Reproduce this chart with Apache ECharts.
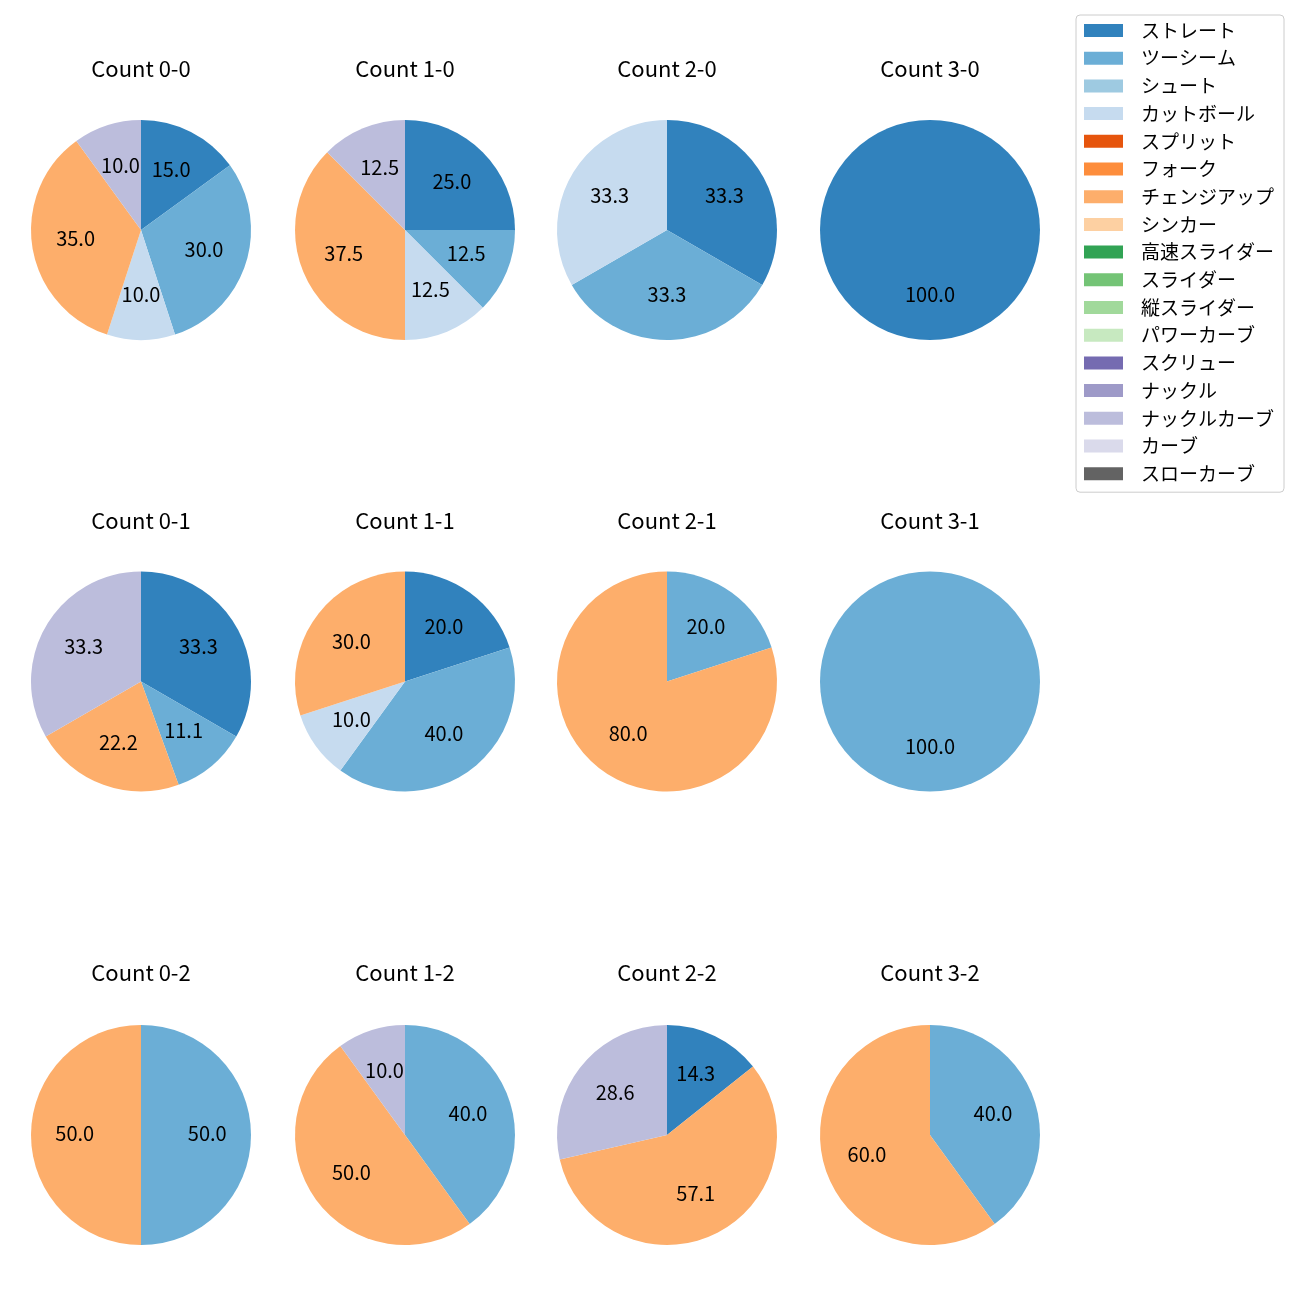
<!DOCTYPE html>
<html>
<head>
<meta charset="utf-8">
<script src="https://cdn.jsdelivr.net/npm/echarts@6/dist/echarts.min.js"></script>
<style>html,body{margin:0;padding:0;background:#fff}#main{width:1300px;height:1300px}</style>
</head>
<body>
<div id="main"></div>
<script>
const categories = ['ストレート','ツーシーム','シュート','カットボール','スプリット','フォーク','チェンジアップ','シンカー','高速スライダー','スライダー','縦スライダー','パワーカーブ','スクリュー','ナックル','ナックルカーブ','カーブ','スローカーブ'];
const colors = ['#3182bd','#6baed6','#9ecae1','#c6dbef','#e6550d','#fd8d3c','#fdae6b','#fdd0a2','#31a354','#74c476','#a1d99b','#c7e9c0','#756bb1','#9e9ac8','#bcbddc','#dadaeb','#636363'];

const pieTitles = ['Count 0-0','Count 1-0','Count 2-0','Count 3-0','Count 0-1','Count 1-1','Count 2-1','Count 3-1','Count 0-2','Count 1-2','Count 2-2','Count 3-2'];

const names00 = ['ストレート','ツーシーム','カットボール','チェンジアップ','ナックルカーブ'];
const values00 = [3,6,2,7,2];
const names10 = ['ストレート','ツーシーム','カットボール','チェンジアップ','ナックルカーブ'];
const values10 = [2,1,1,3,1];
const names20 = ['ストレート','ツーシーム','カットボール'];
const values20 = [1,1,1];
const names30 = ['ストレート'];
const values30 = [1];
const names01 = ['ストレート','ツーシーム','チェンジアップ','ナックルカーブ'];
const values01 = [3,1,2,3];
const names11 = ['ストレート','ツーシーム','カットボール','チェンジアップ'];
const values11 = [2,4,1,3];
const names21 = ['ツーシーム','チェンジアップ'];
const values21 = [1,4];
const names31 = ['ツーシーム'];
const values31 = [1];
const names02 = ['ツーシーム','チェンジアップ'];
const values02 = [1,1];
const names12 = ['ツーシーム','チェンジアップ','ナックルカーブ'];
const values12 = [4,5,1];
const names22 = ['ストレート','チェンジアップ','ナックルカーブ'];
const values22 = [1,4,2];
const names32 = ['ツーシーム','チェンジアップ'];
const values32 = [2,3];

const pieNames = [names00,names10,names20,names30,names01,names11,names21,names31,names02,names12,names22,names32];
const pieValues = [values00,values10,values20,values30,values01,values11,values21,values31,values02,values12,values22,values32];

const colX = [141, 405, 667, 930];
const rowY = [230, 681.5, 1135];
const titleY = [58, 510, 962];
const R = 110;
const FONT = '"Noto Sans CJK JP", "Noto Sans", sans-serif';

function colorOf(n){ return colors[categories.indexOf(n)]; }

const series = [];
// legend holder series (invisible)
series.push({
  type:'pie', radius:[0,0], center:[-100,-100], silent:true,
  label:{show:false}, labelLine:{show:false},
  data: categories.map(n => ({name:n, value:0, itemStyle:{color:colorOf(n)}}))
});
const titles = [];
for (let i = 0; i < 12; i++) {
  const cx = colX[i % 4], cy = rowY[Math.floor(i / 4)];
  const names = pieNames[i], vals = pieValues[i];
  const sum = vals.reduce((a,b)=>a+b,0);
  series.push({
    type:'pie', radius:[0,R], center:[cx,cy], startAngle:90, clockwise:true,
    silent:true, animation:false,
    label:{show:false}, labelLine:{show:false},
    itemStyle:{borderWidth:0},
    data: names.map((n,k)=>({name:n, value:vals[k], itemStyle:{color:colorOf(n)}}))
  });
  series.push({
    type:'pie', radius:[0,R*1.15], center:[cx,cy], startAngle:90, clockwise:true,
    silent:true, animation:false,
    label:{show:true, position:'inside', color:'#000', fontSize:20, fontFamily:FONT, offset:[0,-1.5],
      formatter: p => (vals[p.dataIndex]/sum*100).toFixed(1)},
    labelLine:{show:false},
    itemStyle:{color:'rgba(0,0,0,0)'},
    emphasis:{disabled:true},
    data: names.map((n,k)=>({name:n, value:vals[k], itemStyle:{color:'rgba(0,0,0,0)'}}))
  });
  titles.push({
    text: pieTitles[i], left: cx, top: titleY[Math.floor(i/4)], textAlign:'center', padding:0,
    textStyle:{fontSize:22, fontWeight:'normal', color:'#000', fontFamily:FONT}
  });
}

const chart = echarts.init(document.getElementById('main'), null, {renderer:'canvas'});
chart.setOption({
  animation:false,
  title: titles,
  legend: {
    orient:'vertical', left:1076, top:15,
    data: categories,
    itemWidth:39, itemHeight:13, itemGap:8.7,
    icon:'rect',
    borderColor:'#cccccc', borderWidth:1, borderRadius:4,
    padding:[6,10,9,8],
    selectedMode:false,
    textStyle:{fontSize:19, lineHeight:19, color:'#000', fontFamily:FONT, padding:[0,0,0,13]}
  },
  series: series
});
</script>
</body>
</html>
